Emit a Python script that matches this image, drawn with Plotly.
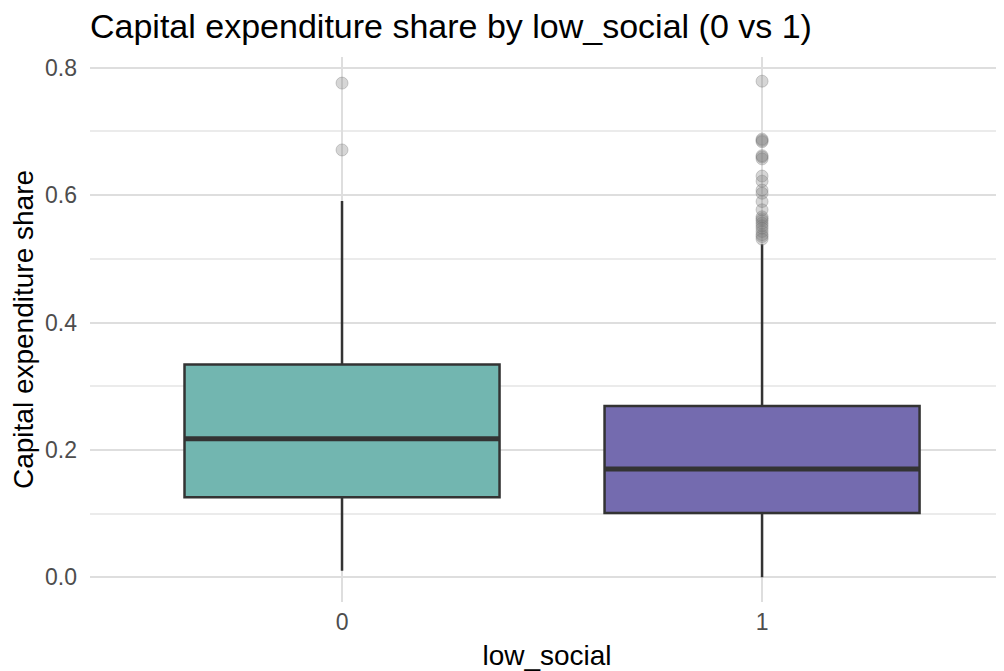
import plotly.graph_objects as go

categories = ["0", "1"]
q1 = [0.1257, 0.1006]
median = [0.2174, 0.1697]
q3 = [0.334, 0.2688]
lower_whisker = [0.0099, 0.0]
upper_whisker = [0.591, 0.523]
fill_colors = ["#72B6B0", "#746BAF"]
outliers_0 = [0.776, 0.671]
outliers_1 = [0.779, 0.688, 0.686, 0.684, 0.662, 0.660, 0.657, 0.630, 0.622,
              0.608, 0.603, 0.590, 0.577, 0.566, 0.563, 0.560, 0.556, 0.552,
              0.548, 0.543, 0.538, 0.535, 0.531]
outliers = [outliers_0, outliers_1]

BOX_W = 0.75
fig = go.Figure()

for i, cat in enumerate(categories):
    fig.add_trace(go.Box(
        x=[i], q1=[q1[i]], median=[median[i]], q3=[q3[i]],
        lowerfence=[lower_whisker[i]], upperfence=[upper_whisker[i]],
        width=BOX_W, whiskerwidth=0, fillcolor=fill_colors[i],
        line=dict(color="#333333", width=2.5), boxpoints=False,
        showlegend=False, hoverinfo="skip"))
    # thicker median line like ggplot
    fig.add_trace(go.Scatter(
        x=[i - BOX_W / 2, i + BOX_W / 2], y=[median[i], median[i]],
        mode="lines", line=dict(color="#333333", width=5),
        showlegend=False, hoverinfo="skip"))
    fig.add_trace(go.Scatter(
        x=[i] * len(outliers[i]), y=outliers[i], mode="markers",
        marker=dict(size=12, color="rgba(120,120,120,0.3)",
                    line=dict(color="rgba(120,120,120,0.35)", width=1)),
        showlegend=False, hoverinfo="skip"))

fig.update_layout(
    width=996, height=663,
    margin=dict(l=82, r=0, t=49, b=69),
    plot_bgcolor="white", paper_bgcolor="white",
    font=dict(family="Liberation Sans, Arial, sans-serif"),
    title=dict(text="Capital expenditure share by low_social (0 vs 1)",
               x=0, xref="paper", xanchor="left",
               y=1 - 18 / 663, yanchor="middle",
               font=dict(size=34, color="black")),
    xaxis=dict(range=[-0.6, 1.576], tickmode="array", tickvals=[0, 1],
               ticktext=categories, showgrid=True, gridcolor="#DEDEDE",
               gridwidth=2, zeroline=False, showline=False, ticks="",
               automargin=False, ticklabelstandoff=4,
               tickfont=dict(size=23, color="#4D4D4D"),
               title=dict(text="low_social", font=dict(size=28, color="black"),
                          standoff=12)),
    yaxis=dict(range=[-0.039, 0.817], tickmode="array",
               tickvals=[0, 0.2, 0.4, 0.6, 0.8],
               ticktext=["0.0", "0.2", "0.4", "0.6", "0.8"],
               showgrid=True, gridcolor="#DEDEDE", gridwidth=2,
               zeroline=False, showline=False, ticks="",
               automargin=False, ticklabelstandoff=12,
               tickfont=dict(size=23, color="#4D4D4D"),
               minor=dict(tickvals=[0.1, 0.3, 0.5, 0.7], showgrid=True,
                          gridcolor="#EBEBEB", gridwidth=1.5),
               title=dict(text="Capital expenditure share",
                          font=dict(size=28, color="black"), standoff=8)),
)

fig.write_html("out.html")
